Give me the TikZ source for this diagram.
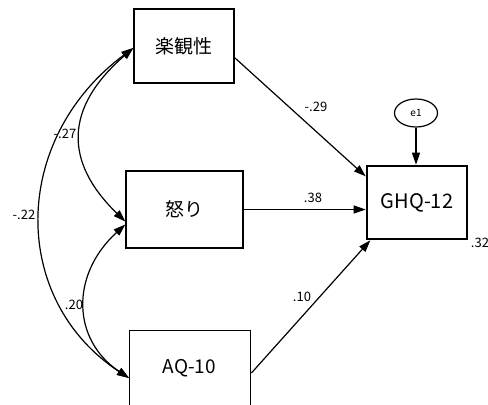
\documentclass[tikz,border=0pt]{standalone}
\usepackage{fontspec}
\setmainfont{Noto Sans CJK JP}
\usetikzlibrary{arrows.meta,shapes.geometric,calc}
\begin{document}
\begin{tikzpicture}[x=1bp,y=-1bp,
  box/.style={draw=black,line width=1.4bp,rectangle,inner sep=0pt,font=\fontsize{19bp}{22bp}\selectfont},
  endobox/.style={draw=black,line width=2.6bp,rectangle,inner sep=0pt,font=\fontsize{20bp}{23bp}\selectfont},
  errnode/.style={draw=black,line width=1.2bp,ellipse,minimum width=43bp,minimum height=28bp,inner sep=0pt,font=\fontsize{10bp}{12bp}\selectfont},
  path/.style={line width=1.2bp,-{Triangle[length=12bp,width=8bp]}},
  cov/.style={line width=1.2bp,{Triangle[length=12bp,width=8bp]}-{Triangle[length=12bp,width=8bp]}},
  coef/.style={inner sep=0pt,font=\fontsize{13bp}{15bp}\selectfont}]
\useasboundingbox (0,0) rectangle (488,404);
\clip (0,0) rectangle (488,404);
\fill[white] (0,0) rectangle (488,404);
% boxes
\node[box,minimum width=100bp,minimum height=74bp] (opt) at (184,46) {楽観性};
\node[box,minimum width=117bp,minimum height=77bp] (ang) at (184.5,209.5) {怒り};
\node[box,minimum width=121bp,minimum height=82bp,anchor=north west] (aq) at (129,330) {};
\node[font=\fontsize{19bp}{22bp}\selectfont] (aqt) at (189.5,368) {AQ-10};
\node[endobox,minimum width=100bp,minimum height=73bp] (ghq) at (417,202.5) {GHQ-12};
\node[errnode] (e1) at (416,113) {e1};
% paths
\draw[path] (opt.-13.5) -- (ghq.153.9);
\draw[path] (ang.east) -- (ang.east -| ghq.west);
\draw[path] (aq.east |- 0,373) -- (ghq.219.2);
\draw[path] (e1.south) -- (e1.south |- ghq.north);
% covariances
\coordinate (optL) at ($(opt.west)+(0,2)$);
\coordinate (angLa) at ($(ang.west)+(0,12)$);
\coordinate (angLb) at ($(ang.west)+(0,15)$);
\coordinate (aqL) at ($(aq.north west)+(0,48)$);
\draw[cov] (optL) .. controls (64,108) and (64,162) .. (angLa);
\draw[cov] (angLb) .. controls (70,275) and (72,340) .. (aqL);
\draw[cov] (optL) .. controls (10,140) and (10,300) .. (aqL);
% coefficients
\node[coef] (c1) at (65,134) {-.27};
\node[coef] (c2) at (24,215) {-.22};
\node[coef] (c3) at (74,305) {.20};
\node[coef] (c4) at (316,107) {-.29};
\node[coef] (c5) at (313,198) {.38};
\node[coef] (c6) at (302,297) {.10};
\node[coef] (c7) at (480,243) {.32};
\end{tikzpicture}
\end{document}
